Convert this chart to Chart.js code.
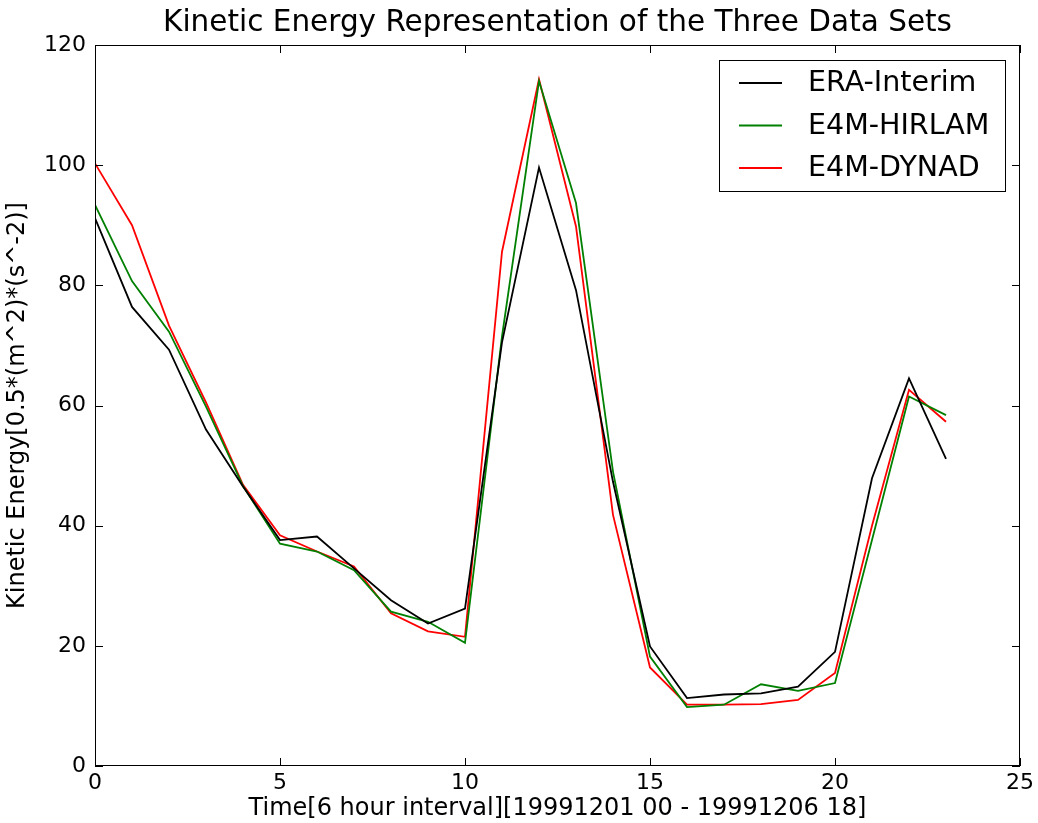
<!DOCTYPE html>
<html>
<head>
<meta charset="utf-8">
<script src="https://cdn.jsdelivr.net/npm/chart.js@4.4.1/dist/chart.umd.min.js"></script>
<style>
  body { margin: 0; background: #fff; }
  #wrap { width: 1038px; height: 823px; }
</style>
</head>
<body>
<div id="wrap"><canvas id="keChart" width="1038" height="823"></canvas></div>
<script>
// time steps (6 hour interval)
const timeSteps = [0, 1, 2, 3, 4, 5, 6, 7, 8, 9, 10, 11, 12, 13, 14, 15, 16, 17, 18, 19, 20, 21, 22, 23];

const eraInterim = [91.2, 76.4, 69.3, 56.0, 46.5, 37.6, 38.2, 32.9, 27.6, 23.7, 26.2, 70.5, 99.6, 79.2, 47.3, 19.9, 11.3, 11.9, 12.1, 13.2, 19.0, 47.9, 64.5, 51.1];
const e4mHirlam  = [93.4, 80.7, 72.3, 59.8, 46.6, 37.0, 35.7, 32.6, 25.7, 24.0, 20.5, 71.5, 114.0, 93.7, 49.0, 18.2, 9.8, 10.2, 13.6, 12.5, 13.8, 37.6, 61.5, 58.4];
const e4mDynad   = [100.3, 90.0, 73.3, 60.5, 46.8, 38.4, 35.7, 33.2, 25.4, 22.4, 21.5, 85.6, 114.3, 89.8, 41.8, 16.4, 10.2, 10.2, 10.3, 11.0, 15.5, 40.0, 62.6, 57.3];

const seriesNames = ['ERA-Interim', 'E4M-HIRLAM', 'E4M-DYNAD'];
const seriesColors = ['#000000', '#008000', '#ff0000'];

const FONT = "'DejaVu Sans', sans-serif";

function toPoints(values) {
    return values.map((v, i) => ({ x: timeSteps[i], y: v }));
}

// center the title over the axes, like matplotlib does
const titleOverAxes = {
    id: 'titleOverAxes',
    afterLayout(chart) {
        const tb = chart.titleBlock;
        if (!tb) return;
        tb.left = chart.chartArea.left;
        tb.right = chart.chartArea.right;
        tb.width = tb.right - tb.left;
    }
};

// matplotlib-like frame, inward ticks and boxed legend
const mplFrame = {
    id: 'mplFrame',
    afterDraw(chart) {
        const { ctx, chartArea: a, scales } = chart;
        ctx.save();
        ctx.strokeStyle = '#000';
        ctx.lineWidth = 1;
        ctx.strokeRect(a.left + 0.5, a.top + 0.5, a.right - a.left - 1, a.bottom - a.top - 1);

        const len = 8;
        ctx.beginPath();
        scales.x.ticks.forEach(t => {
            const px = Math.round(scales.x.getPixelForValue(t.value)) + 0.5;
            ctx.moveTo(px, a.bottom); ctx.lineTo(px, a.bottom - len);
            ctx.moveTo(px, a.top); ctx.lineTo(px, a.top + len);
        });
        scales.y.ticks.forEach(t => {
            const py = Math.round(scales.y.getPixelForValue(t.value)) + 0.5;
            ctx.moveTo(a.left, py); ctx.lineTo(a.left + len, py);
            ctx.moveTo(a.right, py); ctx.lineTo(a.right - len, py);
        });
        ctx.stroke();

        // legend box in upper right
        const boxW = 286, boxH = 131;
        const bx = a.right - 301, by = a.top + 15;
        ctx.fillStyle = '#fff';
        ctx.fillRect(bx, by, boxW, boxH);
        ctx.strokeRect(bx + 0.5, by + 0.5, boxW, boxH);
        ctx.font = '28.5px ' + FONT;
        ctx.textBaseline = 'middle';
        chart.data.datasets.forEach((ds, i) => {
            const ry = by + 23 + i * 42.5;
            ctx.strokeStyle = ds.borderColor;
            ctx.lineWidth = 1.8;
            ctx.beginPath();
            ctx.moveTo(bx + 20, ry); ctx.lineTo(bx + 63, ry);
            ctx.stroke();
            ctx.fillStyle = '#000';
            ctx.fillText(ds.label, bx + 89, ry + 1);
        });
        ctx.restore();
    }
};

const ctx = document.getElementById('keChart').getContext('2d');
const chart = new Chart(ctx, {
    type: 'line',
    data: {
        datasets: [eraInterim, e4mHirlam, e4mDynad].map((vals, i) => ({
            label: seriesNames[i],
            data: toPoints(vals),
            borderColor: seriesColors[i],
            backgroundColor: seriesColors[i],
            borderWidth: 1.8,
            pointRadius: 0,
            tension: 0,
            fill: false
        }))
    },
    options: {
        responsive: false,
        animation: false,
        layout: { padding: { left: 0, right: 16, top: 0, bottom: 0 } },
        plugins: {
            legend: { display: false },
            tooltip: { enabled: false },
            title: {
                display: true,
                text: 'Kinetic Energy Representation of the Three Data Sets',
                color: '#000',
                font: { family: FONT, size: 29.5, weight: 'normal' },
                padding: { top: 6, bottom: 3.6 }
            }
        },
        scales: {
            x: {
                type: 'linear',
                min: 0,
                max: 25,
                afterFit(scale) { scale.height = 57; },
                ticks: {
                    stepSize: 5,
                    color: '#000',
                    padding: 4,
                    font: { family: FONT, size: 22 }
                },
                grid: { display: false, drawTicks: false },
                border: { display: false },
                title: {
                    display: true,
                    text: 'Time[6 hour interval][19991201 00 - 19991206 18]',
                    color: '#000',
                    font: { family: FONT, size: 24 },
                    padding: { top: 0, bottom: 0 }
                }
            },
            y: {
                min: 0,
                max: 120,
                afterFit(scale) { scale.width = 95; },
                ticks: {
                    stepSize: 20,
                    color: '#000',
                    padding: 9,
                    font: { family: FONT, size: 22 }
                },
                grid: { display: false, drawTicks: false },
                border: { display: false },
                title: {
                    display: true,
                    text: 'Kinetic Energy[0.5*(m^2)*(s^-2)]',
                    color: '#000',
                    font: { family: FONT, size: 24 },
                    padding: { top: 3.5, bottom: 0 }
                }
            }
        }
    },
    plugins: [titleOverAxes, mplFrame]
});
</script>
</body>
</html>
